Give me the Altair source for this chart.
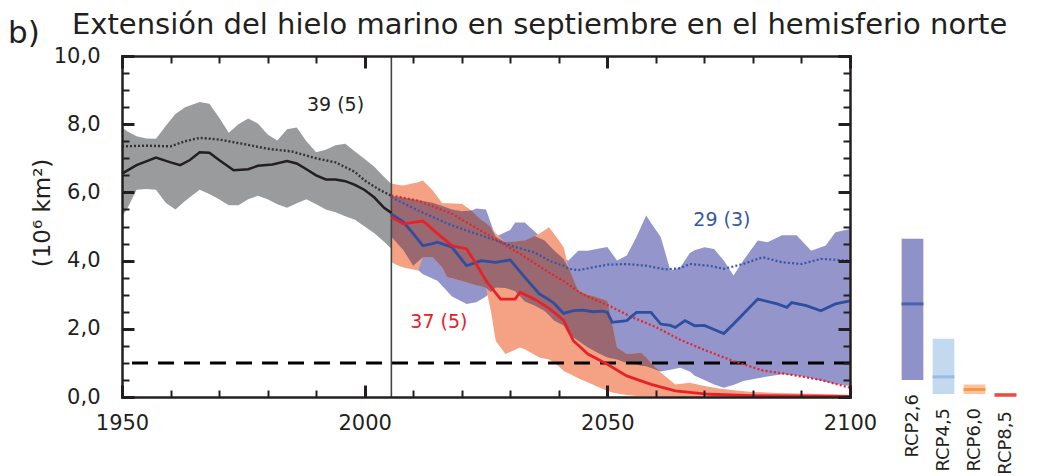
import altair as alt
import pandas as pd

TITLE = "Extensión del hielo marino en septiembre en el hemisferio norte"
PANEL = "b)"
Y_TITLE = "(10⁶ km²)"

# ---------------- historical (1950-2005) ----------------
hist_band_years = [1950, 1951, 1953, 1955, 1957, 1959, 1961, 1963, 1966, 1968, 1970, 1972, 1974,
                   1976, 1978, 1980, 1982, 1984, 1986, 1988, 1990, 1992, 1994, 1996, 1998, 2000,
                   2002, 2004, 2005.5]
hist_band_hi = [7.9, 7.8, 7.65, 7.58, 7.57, 7.95, 8.3, 8.5, 8.65, 8.6, 8.2, 7.75, 8.0,
                8.17, 8.02, 7.7, 7.52, 7.85, 7.9, 7.5, 7.18, 7.25, 7.38, 7.43, 7.2, 6.98,
                6.75, 6.45, 6.25]
hist_band_lo = [5.3, 5.5, 6.08, 6.1, 6.08, 5.7, 5.5, 5.75, 6.08, 5.95, 5.8, 5.62, 5.62,
                5.8, 5.9, 5.8, 5.65, 5.55, 5.68, 5.8, 5.65, 5.5, 5.42, 5.3, 5.2, 5.0,
                4.8, 4.55, 4.35]

hist_mean_years = [1950, 1953, 1957, 1960, 1962, 1964, 1966, 1968, 1970, 1973, 1976, 1978, 1981,
                   1984, 1986, 1988, 1990, 1992, 1994, 1996, 1998, 2000, 2002, 2004, 2005.5]
hist_mean = [6.55, 6.8, 7.02, 6.88, 6.8, 6.95, 7.18, 7.16, 6.95, 6.65, 6.68, 6.78, 6.82,
             6.92, 6.85, 6.68, 6.5, 6.38, 6.38, 6.33, 6.22, 6.07, 5.85, 5.55, 5.4]

hist_dot_years = [1950, 1955, 1960, 1963, 1966, 1970, 1975, 1980, 1985, 1990, 1994, 1998, 2000,
                  2003, 2005.5]
hist_dot = [7.35, 7.37, 7.35, 7.5, 7.6, 7.55, 7.42, 7.28, 7.2, 7.0, 6.88, 6.6, 6.35, 6.08, 5.9]

# ---------------- RCP2.6 (blue) ----------------
b_band_years = [2005.5, 2008, 2010, 2012, 2015, 2018, 2021, 2023, 2025, 2027, 2030, 2031, 2033,
                2035, 2037, 2039, 2041, 2042, 2044, 2046, 2048, 2050, 2052, 2054, 2056, 2058,
                2059, 2061, 2063, 2065, 2067, 2068, 2070, 2072, 2074, 2076, 2078, 2081, 2083,
                2086, 2089, 2092, 2095, 2097, 2100]
b_band_hi = [5.9, 5.85, 5.8, 5.75, 5.65, 5.5, 5.4, 5.53, 5.5, 4.7, 4.9, 5.12, 5.12,
             4.85, 4.6, 4.3, 4.05, 4.0, 4.29, 4.29, 4.35, 4.4, 4.0, 4.15, 4.69, 5.32,
             5.1, 4.69, 3.71, 3.8, 4.22, 4.3, 4.39, 4.34, 4.0, 3.56, 4.0, 4.59, 4.54,
             4.74, 4.74, 4.29, 4.44, 4.83, 4.93]
b_band_lo = [4.7, 4.3, 3.85, 3.6, 3.41, 2.95, 2.73, 2.78, 2.95, 3.21, 3.2, 3.1, 2.8,
             2.68, 2.53, 2.24, 2.1, 1.85, 1.65, 1.45, 1.3, 1.16, 1.1, 1.0, 0.95, 0.9,
             0.85, 0.75, 0.8, 0.86, 0.75, 0.62, 0.5, 0.37, 0.27, 0.35, 0.47, 0.55, 0.6,
             0.67, 0.63, 0.55, 0.45, 0.38, 0.32]

b_mean_years = [2005.5, 2008, 2010, 2012, 2014, 2015, 2018, 2021, 2024, 2027, 2030, 2033, 2036,
                2038, 2039, 2041, 2043, 2045, 2047, 2049, 2050, 2051, 2054, 2056, 2059, 2061,
                2063, 2064, 2066, 2068, 2070, 2071, 2074, 2076, 2081, 2085, 2087, 2088, 2091,
                2094, 2097, 2100]
b_mean = [5.37, 5.13, 4.79, 4.44, 4.5, 4.54, 4.39, 3.85, 4.0, 3.95, 4.02, 3.51, 3.02,
          2.85, 2.75, 2.45, 2.53, 2.55, 2.5, 2.52, 2.48, 2.19, 2.24, 2.48, 2.48, 2.14,
          2.1, 2.04, 2.24, 2.09, 2.1, 2.04, 1.86, 2.14, 2.87, 2.73, 2.63, 2.77, 2.68,
          2.53, 2.73, 2.82]

b_dot_years = [2005.5, 2011, 2018, 2025, 2030, 2035, 2038, 2041, 2042, 2044, 2047, 2050, 2054,
               2058, 2062, 2065, 2067, 2071, 2074, 2078, 2082, 2086, 2090, 2094, 2100]
b_dot = [5.86, 5.47, 5.03, 4.69, 4.44, 4.24, 4.0, 3.85, 3.76, 3.72, 3.8, 3.88, 3.9,
         3.85, 3.74, 3.78, 3.9, 3.85, 3.76, 3.9, 4.1, 3.95, 3.9, 4.05, 4.0]

# ---------------- RCP8.5 (red) ----------------
r_band_years = [2005.5, 2007, 2008, 2011, 2012, 2014, 2016, 2017, 2020, 2022, 2024, 2025, 2026,
                2027, 2029, 2032, 2033, 2036, 2038, 2040, 2041, 2042, 2044, 2047, 2048, 2050,
                2051, 2052, 2054, 2056, 2057, 2060, 2061, 2064, 2067, 2070, 2073, 2077, 2080,
                2085, 2090, 2100]
r_band_hi = [6.26, 6.22, 6.2, 6.3, 6.35, 6.06, 5.68, 5.68, 5.67, 5.47, 5.2, 5.1, 4.98,
             4.8, 4.54, 4.57, 4.59, 4.79, 4.98, 4.6, 4.39, 3.8, 3.12, 2.95, 2.92, 2.82,
             2.14, 1.45, 1.26, 1.28, 1.3, 0.86, 0.72, 0.37, 0.42, 0.32, 0.25, 0.18, 0.15,
             0.12, 0.1, 0.06]
r_band_lo = [3.95, 3.85, 3.8, 3.71, 4.1, 4.1, 3.8, 3.51, 3.4, 3.32, 3.25, 3.2, 2.53,
             1.65, 1.26, 1.45, 1.4, 1.16, 1.1, 0.9, 0.76, 0.7, 0.55, 0.37, 0.3, 0.18,
             0.13, 0.1, 0.06, 0.03, 0.03, 0.02, 0.02, 0.01, 0.01, 0.01, 0.01, 0.0, 0.0,
             0.0, 0.0, 0.0]

r_mean_years = [2005.5, 2008, 2010, 2012, 2015, 2018, 2021, 2023, 2025, 2028, 2031, 2032, 2035,
                2038, 2041, 2043, 2046, 2050, 2054, 2059, 2064, 2071, 2080, 2100]
r_mean = [5.27, 5.08, 5.12, 5.16, 4.79, 4.44, 4.34, 3.9, 3.41, 2.87, 2.87, 3.07, 2.87,
          2.6, 2.25, 1.65, 1.26, 0.96, 0.62, 0.37, 0.18, 0.08, 0.04, 0.02]

r_dot_years = [2005.5, 2011, 2018, 2025, 2032, 2038, 2041, 2045, 2050, 2055, 2060, 2065, 2070,
               2076, 2082, 2088, 2094, 2100]
r_dot = [5.91, 5.76, 5.37, 4.79, 4.2, 3.65, 3.4, 3.0, 2.7, 2.35, 2.05, 1.68, 1.38,
         1.05, 0.78, 0.65, 0.5, 0.27]

# ---------------- region where the two ranges overlap (dark shade) ----------------
ov_years = [2005.5, 2008, 2010, 2012, 2014, 2016, 2017, 2018, 2020, 2022, 2023, 2024, 2025,
            2026, 2027, 2029, 2031, 2033, 2035, 2037, 2038, 2039, 2041, 2042, 2044, 2046,
            2048, 2050, 2051, 2052, 2054, 2056, 2057, 2058, 2059, 2060, 2061]
ov_hi = [5.9, 5.85, 5.8, 5.75, 5.7, 5.6, 5.55, 5.5, 5.45, 5.47, 5.33, 5.2, 5.1,
         4.98, 4.7, 4.54, 4.56, 4.59, 4.72, 4.6, 4.45, 4.3, 4.05, 3.8, 3.12, 3.0,
         2.92, 2.82, 2.14, 1.45, 1.26, 1.28, 1.3, 1.16, 1.0, 0.86, 0.75]
ov_lo = [4.7, 4.3, 3.85, 4.1, 4.1, 3.8, 3.51, 3.48, 3.4, 3.32, 3.28, 3.25, 3.2,
         3.08, 3.21, 3.2, 3.1, 2.8, 2.68, 2.53, 2.4, 2.24, 2.1, 1.85, 1.65, 1.45,
         1.3, 1.16, 1.13, 1.1, 1.0, 0.95, 0.92, 0.9, 0.85, 0.8, 0.75]

# ---------------- reference lines & annotations ----------------
divider_year = 2005.5
threshold = 1.0
ann_years = [1994, 2073.6, 2015.3]
ann_vals = [8.55, 5.18, 2.21]
ann_text = ["39 (5)", "29 (3)", "37 (5)"]
ann_color = ["#231F20", "#3457A8", "#E8202A"]

# ---------------- 2081-2100 bars ----------------
rcp_names = ["RCP2,6", "RCP4,5", "RCP6,0", "RCP8,5"]
rcp_lo = [0.5, 0.09, 0.09, 0.0]
rcp_hi = [4.64, 1.71, 0.37, 0.12]
rcp_med = [2.73, 0.59, 0.22, 0.06]
rcp_fill = ["#8F92C8", "#C3D9EF", "#F9C59D", "#F7A38A"]
rcp_line = ["#2E4E9F", "#7EB1E1", "#F4852A", "#E62229"]

# ---------------- axes ----------------
x_major = [1950, 2000, 2050, 2100]
x_minor = list(range(1950, 2101, 10))
y_major = [0, 2, 4, 6, 8, 10]
y_minor = [v / 2 for v in range(0, 21)]

FONT = "DejaVu Sans"
INK = "#231F20"
W, H = 728, 341

xs = alt.Scale(domain=[1950, 2100], nice=False, zero=False)
ys = alt.Scale(domain=[0, 10], nice=False, zero=False)

label_x = alt.Axis(orient="bottom", values=x_major, format="d", labelFont=FONT, labelFontSize=21,
                   labelColor=INK, labelPadding=15, ticks=False, tickSize=0, domain=True,
                   domainColor=INK, domainWidth=2.5, domainCap="square", grid=False, title=None,
                   labelFlush=False, labelOverlap=False, zindex=1)
label_y = alt.Axis(orient="left", values=y_major,
                   labelExpr="replace(format(datum.value, '.1f'), '.', ',')",
                   labelFont=FONT, labelFontSize=21, labelColor=INK, labelPadding=22,
                   ticks=False, tickSize=0, domain=True, domainColor=INK, domainWidth=2.5,
                   domainCap="square", grid=False, title=Y_TITLE, titleFont=FONT,
                   titleFontSize=23, titleFontWeight="normal", titleColor=INK, titleX=-68,
                   titleY=156.5, titleAngle=270, labelFlush=False,
                   labelOverlap=False, zindex=1)


def tick_axis(orient, values, size, width):
    return alt.Axis(orient=orient, values=values, labels=False, ticks=True, tickSize=size,
                    tickWidth=width, tickColor=INK, offset=-size, domain=False, grid=False,
                    title=None, zindex=1)


def frame_axis(orient):
    return alt.Axis(orient=orient, labels=False, ticks=False, domain=True, domainColor=INK,
                    domainWidth=2.5, domainCap="square", grid=False, title=None, zindex=1)


def band(years, lo, hi):
    return pd.DataFrame({"year": years, "lo": lo, "hi": hi})


def series(years, vals):
    return pd.DataFrame({"year": years, "v": vals})


def area(df, color, xaxis=None, yaxis=None):
    return alt.Chart(df).mark_area(color=color, opacity=1).encode(
        x=alt.X("year:Q", scale=xs, axis=xaxis),
        y=alt.Y("lo:Q", scale=ys, axis=yaxis), y2="hi:Q")


hist_band = area(band(hist_band_years, hist_band_lo, hist_band_hi), "#9A9B9D", label_x, label_y)
blue_band = area(band(b_band_years, b_band_lo, b_band_hi), "#9395CB")
red_band = area(band(r_band_years, r_band_lo, r_band_hi), "#F5A284")
ov_band = area(band(ov_years, ov_lo, ov_hi), "#9A6871")

thresh = alt.Chart(pd.DataFrame({"v": [threshold]})).mark_rule(
    color="#000000", strokeWidth=3, strokeDash=[16, 10]).encode(
    y=alt.Y("v:Q", scale=ys, axis=None))
divider = alt.Chart(pd.DataFrame({"year": [divider_year]})).mark_rule(
    color="#444444", strokeWidth=1.6).encode(
    x=alt.X("year:Q", scale=xs, axis=None))


def line(df, color, width, dash, xaxis, yaxis):
    kw = dict(color=color, strokeWidth=width, strokeCap="butt")
    if dash:
        kw["strokeDash"] = dash
    return alt.Chart(df).mark_line(**kw).encode(
        x=alt.X("year:Q", scale=xs, axis=xaxis),
        y=alt.Y("v:Q", scale=ys, axis=yaxis))


hist_dot_l = line(series(hist_dot_years, hist_dot), "#333335", 2.4, [2, 2],
                  tick_axis("bottom", x_major, 12, 3), tick_axis("left", y_major, 12, 3))
b_dot_l = line(series(b_dot_years, b_dot), "#3556A8", 2.2, [2, 2.2],
               frame_axis("top"), frame_axis("right"))
r_dot_l = line(series(r_dot_years, r_dot), "#E62229", 2.2, [2, 2.2], None, None)
hist_mean_l = line(series(hist_mean_years, hist_mean), INK, 2.5, None,
                   tick_axis("bottom", x_minor, 7, 2), tick_axis("left", y_minor, 7, 2))
b_mean_l = line(series(b_mean_years, b_mean), "#2E4E9F", 2.8, None,
                tick_axis("top", x_minor, 7, 2), tick_axis("right", y_minor, 7, 2))
r_mean_l = line(series(r_mean_years, r_mean), "#E62229", 2.8, None,
                tick_axis("top", x_major, 12, 3), tick_axis("right", y_major, 12, 3))

ann = alt.Chart(pd.DataFrame({"year": ann_years, "v": ann_vals, "t": ann_text,
                              "c": ann_color})).mark_text(
    font=FONT, fontSize=19, align="center", baseline="middle").encode(
    x=alt.X("year:Q", scale=xs, axis=None),
    y=alt.Y("v:Q", scale=ys, axis=None),
    text="t:N", color=alt.Color("c:N", scale=None))

panel = alt.Chart(pd.DataFrame({"t": [PANEL]})).mark_text(
    font=FONT, fontSize=31, align="left", baseline="middle", color=INK).encode(
    x=alt.value(-114), y=alt.value(-22), text="t:N")

main = alt.layer(
    hist_band, blue_band, red_band, ov_band, thresh, divider,
    hist_dot_l, b_dot_l, r_dot_l, hist_mean_l, b_mean_l, r_mean_l, ann, panel
).resolve_axis(x="independent", y="independent").properties(
    width=W, height=H,
    title=alt.Title(TITLE, anchor="start", frame="group", dx=-50, offset=-21.5, fontSize=29,
                    font=FONT, fontWeight="normal", color=INK))

# bars on the right (2081-2100)
leg = pd.DataFrame({"name": rcp_names, "lo": rcp_lo, "hi": rcp_hi, "med": rcp_med,
                    "fill": rcp_fill, "line": rcp_line})
lx = alt.X("name:N", sort=rcp_names, scale=alt.Scale(paddingInner=0.3, paddingOuter=0.15),
           axis=None)
ly = alt.Scale(domain=[0, 10], nice=False, zero=False)
bars = alt.Chart(leg).mark_bar().encode(
    x=lx, y=alt.Y("lo:Q", scale=ly, axis=None), y2="hi:Q",
    color=alt.Color("fill:N", scale=None))
meds = alt.Chart(leg).mark_tick(thickness=3, size=22).encode(
    x=lx, y=alt.Y("med:Q", scale=ly, axis=None), color=alt.Color("line:N", scale=None))
labs = alt.Chart(leg).mark_text(angle=270, align="right", baseline="middle", dx=-14,
                                fontSize=18, font=FONT, color=INK).encode(
    x=lx, y=alt.Y("lo:Q", scale=ly, axis=None), text="name:N")
legend = alt.layer(bars, meds, labs).properties(width=124, height=H)

chart = alt.hconcat(main, legend, spacing=47, bounds="flush").properties(
    padding={"left": 0, "top": 2, "right": 0, "bottom": 0}
).configure_view(stroke=None)

chart.save("out.html", embed_options={"renderer": "svg", "actions": False})
